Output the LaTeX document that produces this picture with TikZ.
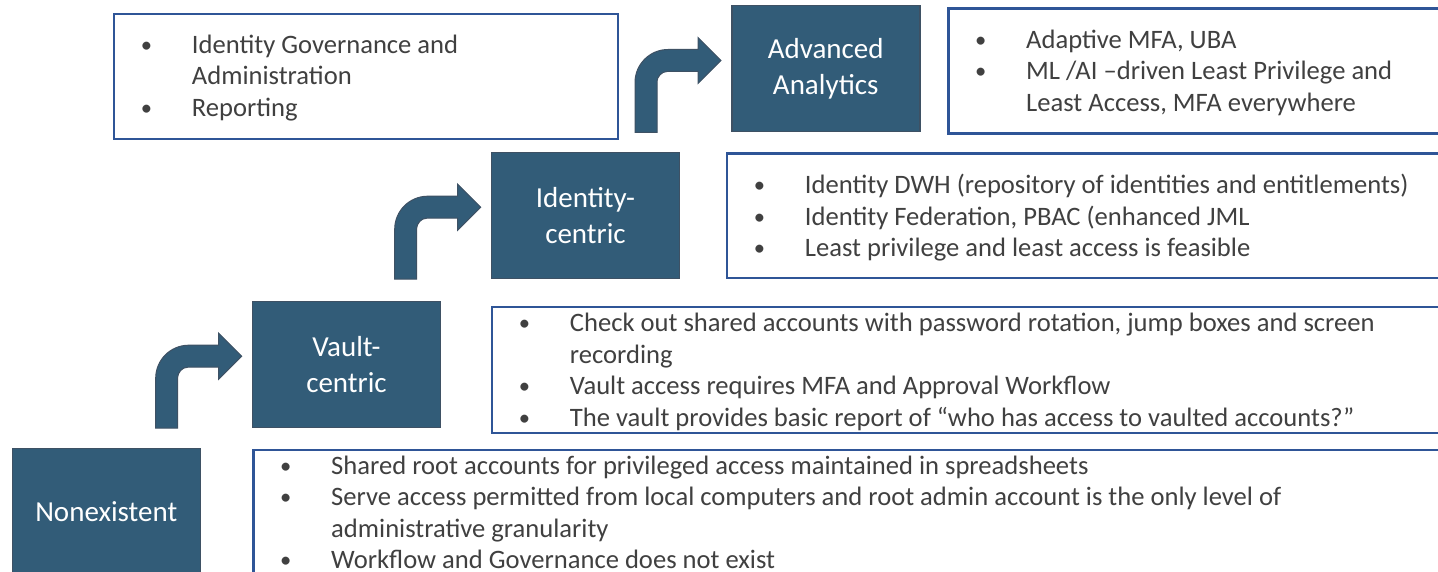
\documentclass[tikz,border=0pt]{standalone}
\usepackage{fontspec}
\setmainfont{Carlito}
\definecolor{stage}{HTML}{325C78}
\definecolor{stageedge}{HTML}{3E5164}
\definecolor{noteedge}{HTML}{2F5597}
\definecolor{notegray}{HTML}{404040}
% bullet line and its hanging continuation
\newcommand\bitem[1]{\makebox[51pt][l]{\raisebox{1pt}{\scalebox{0.85}{\textbullet}}}#1}
\newcommand\bcont[1]{\hspace*{51pt}#1}
% bent block arrow, drawn relative to the south-west corner of the box it points at
\newcommand\bentarrow[1]{%
  \begin{scope}[shift={(#1.south west)}]
    \path[steparrow] (-96,0) -- (-96,-50)
      .. controls (-96,-68.2) and (-81.2,-83) .. (-63,-83)
      -- (-33,-83) -- (-33,-95) -- (-10,-72) -- (-33,-49) -- (-33,-61)
      -- (-64,-61) .. controls (-69.5,-61) and (-74,-55.5) .. (-74,-51)
      -- (-74,0) -- cycle;
  \end{scope}}
\begin{document}
\begin{tikzpicture}[x=1pt,y=-1pt,
  stagebox/.style={draw=stageedge, line width=1.5pt, fill=stage, text=white,
    minimum width=188pt, minimum height=126pt, anchor=north west, align=center,
    font=\fontsize{29}{36}\selectfont, inner sep=0pt},
  notebox/.style={draw=noteedge, line width=2.5pt, fill=white, anchor=north west, inner sep=0pt},
  notetext/.style={anchor=west, align=left, text=notegray,
    font=\fontsize{26.6}{31.5}\selectfont, inner sep=0pt},
  steparrow/.style={fill=stage, draw=stageedge, line width=1pt, line join=miter}]
\useasboundingbox (0,0) rectangle (1438,572);
\fill[white] (0,0) rectangle (1438,572);
\clip (0,0) rectangle (1438,572);

% description boxes
\node[notebox, minimum width=504pt, minimum height=125pt] (iga) at (112.7,12.7) {};
\node[notebox, minimum width=500pt, minimum height=125pt] (advt) at (947,7.5) {};
\node[notebox, minimum width=720pt, minimum height=124pt] (idt) at (725.7,152.5) {};
\node[notebox, minimum width=960pt, minimum height=126pt] (vt) at (490.7,305.5) {};
\node[notebox, minimum width=1200pt, minimum height=127pt] (nt) at (252,448.5) {};

\node[notetext] (igal) at ([xshift=28pt,yshift=-1.5pt]iga.west) {%
  \bitem{Identity Governance and}\\
  \bcont{Administration}\\
  \bitem{Reporting}};
\node[notetext] (advl) at ([xshift=28pt,yshift=-1.5pt]advt.west) {%
  \bitem{Adaptive MFA, UBA}\\
  \bitem{ML /AI –driven Least Privilege and}\\
  \bcont{Least Access, MFA everywhere}};
\node[notetext] (idl) at ([xshift=28pt,yshift=-2pt]idt.west) {%
  \bitem{Identity DWH (repository of identities and entitlements)}\\
  \bitem{Identity Federation, PBAC (enhanced JML}\\
  \bitem{Least privilege and least access is feasible}};
\node[notetext] (vl) at ([xshift=28pt,yshift=-2pt]vt.west) {%
  \bitem{Check out shared accounts with password rotation, jump boxes and screen}\\
  \bcont{recording}\\
  \bitem{Vault access requires MFA and Approval Workflow}\\
  \bitem{The vault provides basic report of “who has access to vaulted accounts?”}};
\node[notetext] (nl) at ([xshift=28pt,yshift=1pt]nt.west) {%
  \bitem{Shared root accounts for privileged access maintained in spreadsheets}\\
  \bitem{Serve access permitted from local computers and root admin account is the only level of}\\
  \bcont{administrative granularity}\\
  \bitem{Workflow and Governance does not exist}};

% maturity stages
\node[stagebox] (nonex) at (11.5,447.5) {Nonexistent};
\node[stagebox] (vault) at (251.7,300.7) {Vault-\\centric};
\node[stagebox] (ident) at (490.7,151.7) {Identity-\\centric};
\node[stagebox] (adv) at (731,5) {Advanced\\Analytics};

% steps between stages
\bentarrow{vault}
\bentarrow{ident}
\bentarrow{adv}
\end{tikzpicture}
\end{document}
